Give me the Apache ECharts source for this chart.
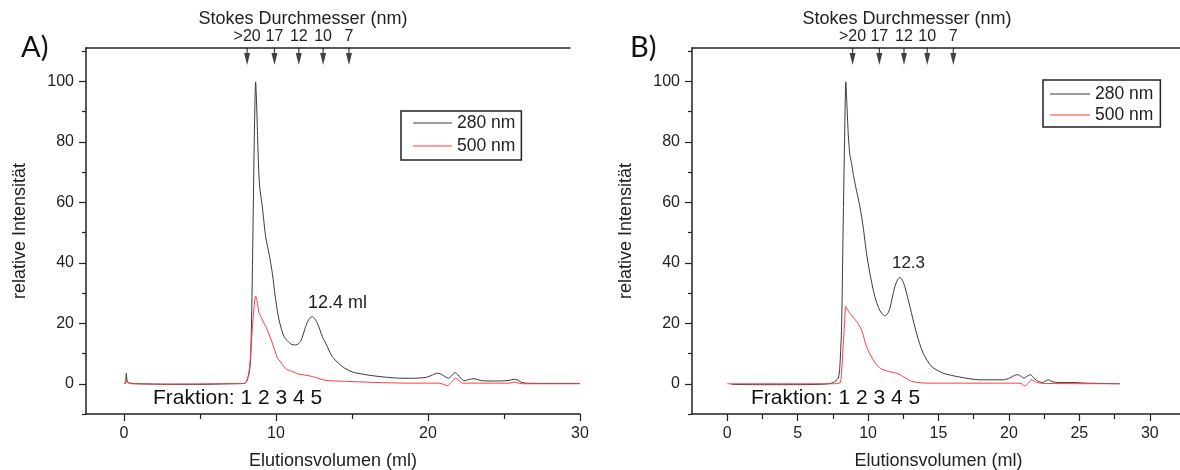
<!DOCTYPE html>
<html>
<head>
<meta charset="utf-8">
<script src="https://cdn.jsdelivr.net/npm/echarts@6/dist/echarts.min.js"></script>
<style>
html, body { margin: 0; padding: 0; background: #fff; }
#chart { width: 1180px; height: 470px; }
</style>
</head>
<body>
<div id="chart"></div>
<script>
// Elution profiles, [volume (ml), relative intensity]
const profileA280 = [[0,0],[0.1,0.2],[0.15,3.5],[0.22,0.8],[0.4,0.2],[1,0],[3,-0.2],[5,-0.2],[7,0],[7.9,0.1],[8.05,0.6],[8.15,2],[8.25,4],[8.33,8],[8.44,35],[8.55,74],[8.62,94],[8.66,99.8],[8.7,96],[8.77,85],[8.85,72],[8.93,65],[9.1,58.5],[9.32,48.6],[9.54,43.1],[9.76,36.5],[9.98,27.7],[10.2,21.1],[10.53,15.6],[10.96,13.2],[11.3,12.8],[11.62,14],[11.95,18.9],[12.2,21.6],[12.4,22.2],[12.72,20],[13.05,15.6],[13.27,13.4],[13.7,9.0],[14.36,5.7],[15.02,3.9],[15.9,3.0],[16.78,2.4],[17.88,1.9],[18.97,1.8],[19.85,2.1],[20.3,2.9],[20.61,3.5],[20.85,3.2],[21.05,2.6],[21.34,1.8],[21.55,2.6],[21.78,3.7],[21.95,3.1],[22.15,1.9],[22.37,1.0],[22.7,1.4],[23.03,1.7],[23.3,1.3],[23.58,1.0],[24.45,0.9],[25.33,1.1],[25.66,1.5],[25.9,1.2],[26.1,0.6],[26.4,0.2],[28,0.1],[30,0.1]];
const profileA500 = [[0,0],[0.1,0.2],[0.15,1.2],[0.25,0.3],[0.5,0],[3,-0.1],[6,0],[7.9,0.1],[8.11,1.3],[8.25,5],[8.35,11],[8.44,18],[8.55,25],[8.66,29],[8.75,27.5],[8.88,23.5],[8.99,22.3],[9.32,18.9],[9.43,17.8],[9.76,13.4],[10.09,8.5],[10.2,7.9],[10.64,5.0],[11.07,4.1],[11.3,3.5],[11.51,3.2],[12.39,2.4],[13.27,1.1],[14.58,0.8],[16.78,0.4],[18.9,0.2],[20.6,0.2],[20.9,0],[21.27,-0.6],[21.55,0.5],[21.82,1.9],[22.05,1.0],[22.26,0.2],[25.4,0.2],[25.66,0.6],[25.9,0.3],[26.2,0],[30,0]];
const profileB280 = [[0.3,-0.2],[2,-0.3],[5,-0.3],[7,-0.1],[7.52,0.4],[7.88,1.9],[8.0,6],[8.12,18.9],[8.23,51.9],[8.33,80],[8.42,99.8],[8.5,92],[8.6,82],[8.7,76],[8.83,72.8],[8.94,69.5],[9.06,66.5],[9.42,58.5],[9.65,51.9],[9.89,43.1],[10.13,36.5],[10.48,28.8],[10.84,24.2],[11.19,22.4],[11.4,23.3],[11.55,25],[11.9,32.1],[12.1,34.4],[12.26,35.2],[12.45,34],[12.61,32.1],[12.97,25.5],[13.44,16.7],[13.91,10.1],[14.51,5.7],[15.33,3.5],[16.52,2.2],[17.93,1.3],[19.59,1.3],[20.06,1.9],[20.4,2.8],[20.65,3.0],[20.85,2.5],[21.06,1.9],[21.3,2.5],[21.53,3.0],[21.75,2.0],[21.96,1.1],[22.38,0.4],[22.78,1.3],[23.14,0.6],[23.85,0.4],[24.56,0.4],[25.5,0.2],[27.87,0]];
const profileB500 = [[0,0],[2,0],[5,0],[7.5,0],[8.0,0.3],[8.12,4],[8.23,12.3],[8.33,20],[8.42,25.5],[8.55,24.5],[8.71,23.3],[9.18,20.6],[9.54,17.8],[9.89,12.3],[10.36,7.9],[10.84,5.2],[11.43,4.1],[12.02,3.5],[12.49,2.4],[13.09,0.8],[14.15,0.2],[20.77,0.2],[21.13,-0.7],[21.4,0.3],[21.6,1.3],[21.8,0.8],[21.96,0.4],[22.5,0.1],[27.87,0]];

// Stokes diameter markers (nm) at their elution volumes
const stokesLabels = ['>20', '17', '12', '10', '7'];
const stokesVolA = [8.1, 9.9, 11.5, 13.1, 14.8];
const stokesVolB = [8.9, 10.8, 12.55, 14.2, 16.05];

// second 280 nm peak [volume, intensity]
const peakA = [12.4, 22.2];
const peakB = [12.3, 35.2];

// axis ticks
const yTicks = [0, 20, 40, 60, 80, 100];
const yMinorTicks = [-10, 10, 30, 50, 70, 90, 110];
const xTicksA = [0, 10, 20, 30];
const xMinorTicksA = [5, 15, 25];
const xTicksB = [0, 5, 10, 15, 20, 25, 30];
const xMinorTicksB = [2.5, 7.5, 12.5, 17.5, 22.5, 27.5];

const seriesNames = ['280 nm', '500 nm'];
const fractionText = 'Fraktion: 1 2 3 4 5';

const FONT = 'Liberation Sans, Arial, sans-serif';
const INK = '#222';
const C280 = '#3a3a3a';
const C500 = '#ff3c3c';
const Y_MIN = -10, Y_MAX = 111;

const chart = echarts.init(document.getElementById('chart'), null, { renderer: 'canvas' });

// fixed plot boxes; no automatic shrinking to fit labels
const gridA = { left: 86, top: 48, width: 494, height: 366, outerBoundsMode: 'none', containLabel: false };
const gridB = { left: 692, top: 48, width: 493, height: 366, outerBoundsMode: 'none', containLabel: false };
const gridTopA = { left: 86, top: 48, width: 484, height: 10, outerBoundsMode: 'none', containLabel: false };
const gridTopB = { left: 692, top: 48, width: 493, height: 10, outerBoundsMode: 'none', containLabel: false };

function mainX(gridIndex, min, max, ticks, minor) {
  return [
    {
      type: 'value', gridIndex, min, max, position: 'bottom',
      name: 'Elutionsvolumen (ml)', nameLocation: 'middle', nameGap: 38,
      nameTextStyle: { fontFamily: FONT, fontSize: 18, color: INK },
      axisLine: { show: true, onZero: false, lineStyle: { color: INK, width: 1.5 } },
      axisTick: { show: true, inside: false, length: 7, customValues: ticks, lineStyle: { color: INK, width: 1.2 } },
      axisLabel: { show: true, customValues: ticks, margin: 12, fontFamily: FONT, fontSize: 16, color: INK },
      splitLine: { show: false }
    },
    {
      type: 'value', gridIndex, min, max, position: 'bottom',
      axisLine: { show: false, onZero: false },
      axisTick: { show: true, inside: false, length: 5, customValues: minor, lineStyle: { color: INK, width: 1.2 } },
      axisLabel: { show: false },
      splitLine: { show: false }
    }
  ];
}

function mainY(gridIndex, nameGap) {
  return [
    {
      type: 'value', gridIndex, min: Y_MIN, max: Y_MAX, position: 'left',
      name: 'relative Intensität', nameLocation: 'middle', nameGap,
      nameTextStyle: { fontFamily: FONT, fontSize: 18, color: INK },
      axisLine: { show: true, onZero: false, lineStyle: { color: INK, width: 1.5 } },
      axisTick: { show: true, inside: false, length: 7, customValues: yTicks, lineStyle: { color: INK, width: 1.2 } },
      axisLabel: { show: true, customValues: yTicks, margin: 12, fontFamily: FONT, fontSize: 16, color: INK },
      splitLine: { show: false }
    },
    {
      type: 'value', gridIndex, min: Y_MIN, max: Y_MAX, position: 'left',
      axisLine: { show: false, onZero: false },
      axisTick: { show: true, inside: false, length: 4, customValues: yMinorTicks, lineStyle: { color: INK, width: 1.2 } },
      axisLabel: { show: false },
      splitLine: { show: false }
    }
  ];
}

// top axis carrying the Stokes diameter labels
function topX(gridIndex, min, max, vols) {
  return {
    type: 'value', gridIndex, min, max, position: 'top',
    axisLine: { show: true, onZero: false, lineStyle: { color: INK, width: 1.5 } },
    axisTick: { show: false },
    axisLabel: {
      show: true, customValues: vols, margin: 3,
      fontFamily: FONT, fontSize: 16, color: INK,
      formatter: (v) => stokesLabels[vols.indexOf(v)]
    },
    splitLine: { show: false }
  };
}

function hiddenY(gridIndex) {
  return { type: 'value', gridIndex, min: 0, max: 1, show: false };
}

const ARROW = 'path://M2,0 L3,0 L3,5 L5,5 L2.5,17 L0,5 L2,5 Z';
const LEGEND_LINE = 'path://M0,0 L40,0 L40,1 L0,1 Z';

function arrowSeries(xAxisIndex, yAxisIndex, vols) {
  return {
    type: 'scatter', xAxisIndex, yAxisIndex, silent: true, clip: false,
    symbol: ARROW, symbolSize: [6, 17], symbolOffset: [0, '50%'],
    itemStyle: { color: '#111' },
    data: vols.map(v => [v, Y_MAX]),
    z: 5
  };
}

function profileSeries(name, xAxisIndex, yAxisIndex, data, color, peak, peakText, offset, fontSize) {
  const s = {
    type: 'line', name, xAxisIndex, yAxisIndex, data,
    symbol: 'none', showSymbol: false, smooth: 0.25,
    lineStyle: { color, width: 1 }, itemStyle: { color },
    animation: false, z: name === '500 nm' ? 3 : 2
  };
  if (peak) {
    s.markPoint = {
      silent: true, symbol: 'circle', symbolSize: 0,
      data: [{ coord: peak }],
      label: {
        show: true, position: 'inside', offset,
        formatter: peakText,
        fontFamily: FONT, fontSize, color: INK
      }
    };
  }
  return s;
}

function legend(left, top, itemWidth, itemGap, padding) {
  return {
    left, top, orient: 'vertical', data: seriesNames,
    icon: LEGEND_LINE,
    itemWidth, itemHeight: 1.2, itemGap, padding,
    borderColor: INK, borderWidth: 1.5, borderRadius: 0,
    backgroundColor: '#fff', selectedMode: false,
    textStyle: { fontFamily: FONT, fontSize: 17.5, color: INK, lineHeight: 20 }
  };
}

const xAxes = [
  ...mainX(0, -2.5, 30, xTicksA, xMinorTicksA),           // 0,1
  ...mainX(1, -2.5, 32.5, xTicksB, xMinorTicksB),         // 2,3
  topX(2, -2.5, -2.5 + 484 / 15.2, stokesVolA),           // 4
  topX(3, -2.5, 32.5, stokesVolB)                         // 5
];
const yAxes = [
  ...mainY(0, 57),   // 0,1
  ...mainY(1, 57),   // 2,3
  hiddenY(2),        // 4
  hiddenY(3)         // 5
];

const option = {
  animation: false,
  backgroundColor: '#fff',
  grid: [gridA, gridB, gridTopA, gridTopB],
  xAxis: xAxes,
  yAxis: yAxes,
  legend: [
    legend(401, 111, 39, 3, [2, 6, 4, 12]),
    legend(1043, 80, 40, 1, [4, 7, 2, 7])
  ],
  series: [
    profileSeries('280 nm', 0, 0, profileA280, C280, peakA, () => peakA[0] + ' ml', [25, -14], 18),
    profileSeries('500 nm', 0, 0, profileA500, C500),
    arrowSeries(0, 0, stokesVolA),
    profileSeries('280 nm', 2, 2, profileB280, C280, peakB, () => String(peakB[0]), [8, -14], 17),
    profileSeries('500 nm', 2, 2, profileB500, C500),
    arrowSeries(2, 2, stokesVolB)
  ],
  graphic: [
    { type: 'text', x: 21, y: 33, style: { text: 'A)', font: '29px Lato, sans-serif', fill: '#111' } },
    { type: 'text', x: 630, y: 33, style: { text: 'B)', font: '29px Lato, sans-serif', fill: '#111' } },
    { type: 'text', x: 303, y: 19, style: { text: 'Stokes Durchmesser (nm)', align: 'center', verticalAlign: 'middle', font: '18px ' + FONT, fill: INK } },
    { type: 'text', x: 907, y: 19, style: { text: 'Stokes Durchmesser (nm)', align: 'center', verticalAlign: 'middle', font: '18px ' + FONT, fill: INK } },
    { type: 'text', x: 153, y: 398, style: { text: fractionText, verticalAlign: 'middle', font: '21px ' + FONT, fill: '#111' } },
    { type: 'text', x: 751, y: 398, style: { text: fractionText, verticalAlign: 'middle', font: '21px ' + FONT, fill: '#111' } }
  ]
};

chart.setOption(option);
</script>
</body>
</html>
